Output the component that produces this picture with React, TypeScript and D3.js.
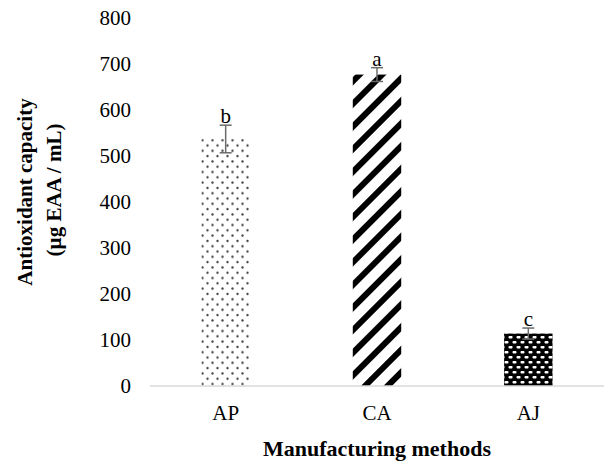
import React from "react";
import * as d3 from "d3";

const categories = ["AP", "CA", "AJ"];
const values = [537, 677, 114];
const errors = [30, 15, 12];
const letters = ["b", "a", "c"];
const yTicks = [0, 100, 200, 300, 400, 500, 600, 700, 800];
const patterns = ["dots", "stripes", "checker"];

const W = 604;
const H = 461;
const FONT = "'Liberation Serif', 'Times New Roman', serif";

export default function App() {
  const x = d3.scaleBand<string>().domain(categories).range([150, 604]).paddingInner(0.68).paddingOuter(0.34);
  const y = d3.scaleLinear().domain([0, 800]).range([386, 18]);
  const bw = x.bandwidth();

  return (
    <svg width={W} height={H} style={{ position: "absolute", left: 0, top: 0, background: "#fff" }}>
      <defs>
        <pattern id="dots" width={10} height={10.6} patternUnits="userSpaceOnUse">
          <rect width={10} height={10.6} fill="#fff" />
          <circle cx={2.5} cy={2.5} r={1.2} fill="#444" />
          <circle cx={7.5} cy={7.8} r={1.2} fill="#444" />
        </pattern>
        <pattern id="stripes" width={16} height={16} patternUnits="userSpaceOnUse" patternTransform="rotate(45)">
          <rect width={16} height={16} fill="#fff" />
          <rect x={0} y={0} width={6} height={16} fill="#000" />
        </pattern>
        <pattern id="checker" width={8} height={10} patternUnits="userSpaceOnUse">
          <rect width={8} height={10} fill="#000" />
          <rect x={0.5} y={1} width={4} height={2.6} rx={1} fill="#fff" />
          <rect x={4.5} y={6} width={4} height={2.6} rx={1} fill="#fff" />
          <rect x={-3.5} y={6} width={4} height={2.6} rx={1} fill="#fff" />
        </pattern>
      </defs>

      {yTicks.map((t) => (
        <text key={t} x={131} y={y(t)} dy="0.35em" textAnchor="end" fontFamily={FONT} fontSize={21} fill="#000">
          {t}
        </text>
      ))}

      {categories.map((c, i) => {
        const x0 = x(c)!;
        const cx = x0 + bw / 2;
        const top = y(values[i] + errors[i]);
        const bot = y(values[i] - errors[i]);
        return (
          <g key={c}>
            <rect x={x0} y={y(values[i])} width={bw} height={y(0) - y(values[i])} fill={`url(#${patterns[i]})`} />
            <line x1={cx} x2={cx} y1={top} y2={bot} stroke="#6b6b6b" strokeWidth={1.5} />
            <line x1={cx - 6} x2={cx + 6} y1={top} y2={top} stroke="#6b6b6b" strokeWidth={1.5} />
            <line x1={cx - 6} x2={cx + 6} y1={bot} y2={bot} stroke="#6b6b6b" strokeWidth={1.5} />
            <text x={cx} y={top - 2} textAnchor="middle" fontFamily={FONT} fontSize={21} fill="#000">
              {letters[i]}
            </text>
            <text x={cx} y={420} textAnchor="middle" fontFamily={FONT} fontSize={21} fill="#000">
              {c}
            </text>
          </g>
        );
      })}

      <line x1={150} x2={604} y1={y(0)} y2={y(0)} stroke="#d9d9d9" strokeWidth={1.5} />

      <text x={377} y={456} textAnchor="middle" fontFamily={FONT} fontSize={22} fontWeight="bold" fill="#000">
        Manufacturing methods
      </text>
      <g transform="translate(25,192) rotate(-90)">
        <text x={0} y={0} dy="0.35em" textAnchor="middle" fontFamily={FONT} fontSize={21} fontWeight="bold" fill="#000">
          Antioxidant capacity
        </text>
      </g>
      <g transform="translate(54,190) rotate(-90)">
        <text x={0} y={0} dy="0.35em" textAnchor="middle" fontFamily={FONT} fontSize={21} fontWeight="bold" fill="#000">
          (µg EAA / mL)
        </text>
      </g>
    </svg>
  );
}
